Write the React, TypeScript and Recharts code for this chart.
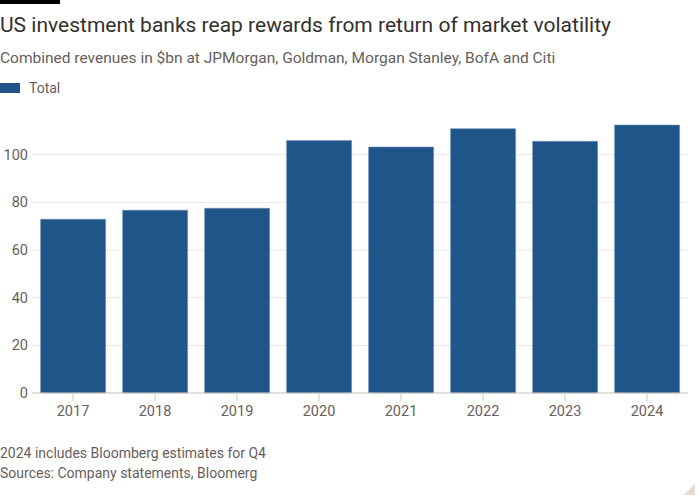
import { BarChart, Bar, XAxis, YAxis, CartesianGrid } from "recharts";

const years = ["2017", "2018", "2019", "2020", "2021", "2022", "2023", "2024"];
const totals = [72.9, 76.7, 77.5, 105.9, 103.2, 110.9, 105.6, 112.4];
const yTicks = [0, 20, 40, 60, 80, 100];
const yMax = 120;

const BAR = "#1f5589";
const TEXT = "#66605c";
const FONT = "Roboto, 'Noto Sans', sans-serif";

export default function App() {
  const data = years.map((year, i) => ({ year, total: totals[i] }));

  // gridlines only at the labelled ticks (no line at the top of the domain)
  const gridLines = ({ offset }: any) =>
    yTicks.map((t) => offset.top + offset.height * (1 - t / yMax));

  return (
    <div style={{ position: "absolute", left: 0, top: 0, width: 700, height: 500, background: "#fff", fontFamily: FONT, overflow: "hidden" }}>
      <div style={{ position: "absolute", left: 0, top: 0, width: 60, height: 4, background: "#000" }} />
      <div style={{ position: "absolute", left: 0, top: 12, fontSize: 21, lineHeight: "26px", color: "#33302e", whiteSpace: "nowrap" }}>
        US investment banks reap rewards from return of market volatility
      </div>
      <div style={{ position: "absolute", left: 0, top: 48, fontSize: 15.5, lineHeight: "20px", color: TEXT, whiteSpace: "nowrap" }}>
        Combined revenues in $bn at JPMorgan, Goldman, Morgan Stanley, BofA and Citi
      </div>
      <div style={{ position: "absolute", left: 0, top: 79, height: 18, display: "flex", alignItems: "center", fontSize: 14, color: TEXT }}>
        <span style={{ display: "inline-block", width: 20, height: 10, background: BAR, marginRight: 9 }} />
        Total
      </div>

      <div style={{ position: "absolute", left: 0, top: 0 }}>
        <BarChart width={700} height={500} data={data} margin={{ top: 107, right: 12, bottom: 77, left: -2 }} barCategoryGap="10.5%">
          <CartesianGrid vertical={false} stroke="#ece5df" horizontalCoordinatesGenerator={gridLines} />
          <XAxis
            dataKey="year"
            height={30}
            stroke="#d6ccc3"
            tickSize={8}
            tickMargin={5}
            tick={{ fill: TEXT, fontSize: 14.5, fontFamily: FONT }}
          />
          <YAxis
            width={34}
            domain={[0, yMax]}
            ticks={yTicks}
            axisLine={false}
            tickLine={false}
            tickSize={0}
            tickMargin={4}
            tick={{ fill: TEXT, fontSize: 14.5, fontFamily: FONT }}
          />
          <Bar dataKey="total" fill={BAR} stroke="#6d8db4" strokeWidth={0.6} isAnimationActive={false} />
        </BarChart>
      </div>

      <div style={{ position: "absolute", left: 0, top: 443, fontSize: 14, lineHeight: "20px", color: TEXT, whiteSpace: "nowrap" }}>
        <div>2024 includes Bloomberg estimates for Q4</div>
        <div>Sources: Company statements, Bloomerg</div>
      </div>
      <svg style={{ position: "absolute", left: 684, top: 484 }} width={12} height={12}>
        <polygon points="11,0 11,11 0,11" fill="#e6d9ce" />
      </svg>
    </div>
  );
}
